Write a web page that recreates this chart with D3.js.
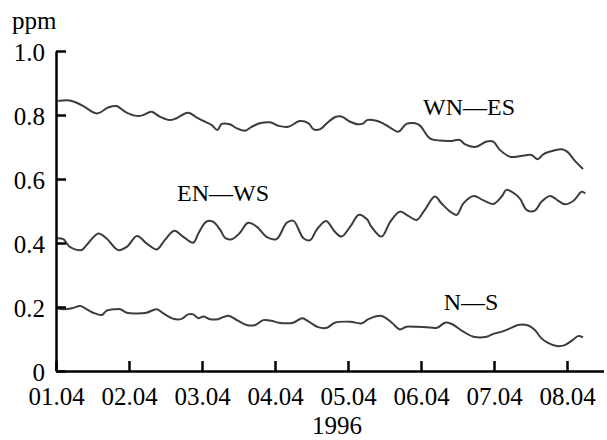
<!DOCTYPE html>
<html>
<head>
<meta charset="utf-8">
<script src="https://cdn.jsdelivr.net/npm/d3@7"></script>
<style>
  html, body { margin: 0; padding: 0; background: #fff; }
  svg { display: block; }
  svg text { font-family: "Liberation Serif", Tinos, "Times New Roman", Times, "DejaVu Serif", serif; }
</style>
</head>
<body>
<svg id="chart" width="607" height="440"></svg>
<script>
// ---- data (day offset from 01.04.1996, ppm) ----
const xTickLabels = ["01.04", "02.04", "03.04", "04.04", "05.04", "06.04", "07.04", "08.04"];
const xTickValues = [0, 1, 2, 3, 4, 5, 6, 7];
const yTickValues = [0, 0.2, 0.4, 0.6, 0.8, 1.0];
const yTickLabels = ["0", "0.2", "0.4", "0.6", "0.8", "1.0"];
const seriesNames = ["WN\u2014ES", "EN\u2014WS", "N\u2014S"];

const wnesDays = [0.03,0.19,0.35,0.56,0.72,0.83,0.95,1.08,1.17,1.31,1.42,1.56,1.65,1.81,1.93,2.04,2.13,2.21,2.27,2.38,2.48,2.59,2.68,2.79,2.93,3.05,3.18,3.34,3.46,3.53,3.62,3.71,3.82,3.91,4.03,4.14,4.21,4.26,4.39,4.48,4.58,4.69,4.80,4.92,4.99,5.12,5.26,5.42,5.53,5.60,5.74,5.90,5.99,6.08,6.23,6.37,6.51,6.60,6.68,6.81,6.93,7.01,7.10,7.22];
const wnesValues = [0.844,0.845,0.831,0.805,0.824,0.828,0.810,0.798,0.798,0.810,0.795,0.784,0.790,0.807,0.792,0.779,0.769,0.753,0.772,0.771,0.758,0.751,0.763,0.774,0.777,0.766,0.763,0.781,0.774,0.755,0.756,0.774,0.793,0.795,0.779,0.771,0.774,0.784,0.782,0.774,0.760,0.748,0.772,0.774,0.766,0.727,0.720,0.719,0.722,0.709,0.700,0.717,0.717,0.691,0.669,0.672,0.675,0.662,0.678,0.688,0.693,0.684,0.659,0.631];

const enwsDays = [0.02,0.10,0.19,0.35,0.42,0.58,0.69,0.85,0.97,1.11,1.24,1.38,1.49,1.62,1.74,1.88,1.95,2.06,2.15,2.25,2.32,2.41,2.52,2.63,2.75,2.89,3.02,3.16,3.25,3.39,3.48,3.57,3.70,3.82,3.91,4.03,4.15,4.26,4.32,4.46,4.58,4.71,4.83,4.94,5.05,5.19,5.28,5.40,5.49,5.58,5.72,5.85,5.99,6.11,6.17,6.29,6.36,6.45,6.56,6.65,6.77,6.88,6.97,7.09,7.20,7.25];
const enwsValues = [0.415,0.412,0.388,0.378,0.394,0.430,0.415,0.378,0.388,0.422,0.399,0.380,0.409,0.438,0.420,0.401,0.430,0.467,0.467,0.441,0.415,0.412,0.432,0.463,0.451,0.418,0.412,0.463,0.470,0.415,0.409,0.441,0.469,0.435,0.420,0.451,0.488,0.474,0.451,0.420,0.467,0.498,0.484,0.472,0.503,0.545,0.524,0.498,0.488,0.524,0.547,0.534,0.522,0.547,0.566,0.553,0.537,0.503,0.501,0.529,0.547,0.532,0.521,0.532,0.560,0.555];

const nsDays = [0.01,0.10,0.22,0.33,0.40,0.51,0.63,0.69,0.81,0.88,0.97,1.11,1.24,1.38,1.47,1.61,1.72,1.81,1.88,1.95,2.02,2.11,2.22,2.36,2.48,2.61,2.73,2.84,2.95,3.05,3.25,3.37,3.43,3.50,3.59,3.71,3.82,4.03,4.19,4.28,4.46,4.60,4.71,4.80,4.94,5.08,5.22,5.33,5.42,5.58,5.72,5.90,5.99,6.11,6.22,6.33,6.47,6.56,6.65,6.74,6.86,6.97,7.09,7.15,7.22];
const nsValues = [0.196,0.193,0.196,0.203,0.196,0.182,0.175,0.188,0.193,0.193,0.182,0.180,0.182,0.193,0.180,0.163,0.163,0.177,0.177,0.165,0.170,0.162,0.162,0.173,0.159,0.144,0.144,0.159,0.157,0.151,0.151,0.165,0.159,0.149,0.137,0.135,0.151,0.154,0.149,0.162,0.172,0.151,0.130,0.138,0.138,0.137,0.135,0.151,0.147,0.123,0.107,0.107,0.116,0.123,0.133,0.144,0.142,0.128,0.102,0.088,0.078,0.081,0.099,0.109,0.105];

const xAxisTitle = "1996";
const yAxisTitle = "ppm";

// ---- drawing ----
const svg = d3.select("#chart");
const x = d3.scaleLinear().domain([0, 7.5]).range([56, 56 + 7.5 * 73]);
const y = d3.scaleLinear().domain([0, 1]).range([371, 51]);

const line = d3.line()
  .x(d => x(d[0]))
  .y(d => y(d[1]))
  .curve(d3.curveCatmullRom.alpha(0.5));

const series = [
  { name: seriesNames[0], pts: d3.zip(wnesDays, wnesValues), lx: 469, ly: 115 },
  { name: seriesNames[1], pts: d3.zip(enwsDays, enwsValues), lx: 223, ly: 201 },
  { name: seriesNames[2], pts: d3.zip(nsDays, nsValues), lx: 471, ly: 310 }
];

svg.selectAll("path.series")
  .data(series)
  .join("path")
  .attr("class", "series")
  .attr("fill", "none")
  .attr("stroke", "#3c3c3c")
  .attr("stroke-width", 2)
  .attr("stroke-linejoin", "round")
  .attr("d", d => line(d.pts));

svg.selectAll("text.slabel")
  .data(series)
  .join("text")
  .attr("class", "slabel")
  .attr("x", d => d.lx)
  .attr("y", d => d.ly)
  .attr("text-anchor", "middle")
  .attr("font-size", 24)
  .attr("fill", "#000")
  .text(d => d.name);

// axes
const xAxis = d3.axisBottom(x)
  .tickValues(xTickValues)
  .tickFormat((d, i) => xTickLabels[i])
  .tickSizeInner(-10)
  .tickSizeOuter(0)
  .tickPadding(16);

const yAxis = d3.axisLeft(y)
  .tickValues(yTickValues)
  .tickFormat((d, i) => yTickLabels[i])
  .tickSizeInner(-10)
  .tickSizeOuter(0)
  .tickPadding(11);

const gx = svg.append("g").attr("transform", "translate(0,371)").call(xAxis);
const gy = svg.append("g").attr("transform", "translate(56,0)").call(yAxis);

[gx, gy].forEach(g => {
  g.attr("font-family", null).attr("font-size", null);
  g.select(".domain").attr("stroke", "#000").attr("stroke-width", 2.5);
  g.selectAll(".tick line").attr("stroke", "#000").attr("stroke-width", 2.5);
  g.selectAll(".tick text")
    .attr("fill", "#000")
    .attr("font-size", 25);
});
gy.selectAll(".tick text").attr("dy", "0.36em");

svg.append("text")
  .attr("x", 337).attr("y", 434)
  .attr("text-anchor", "middle")
  .attr("font-size", 25)
  .attr("fill", "#000")
  .text(xAxisTitle);

svg.append("text")
  .attr("x", 12).attr("y", 29)
  .attr("font-size", 25)
  .attr("fill", "#000")
  .text(yAxisTitle);
</script>
</body>
</html>
